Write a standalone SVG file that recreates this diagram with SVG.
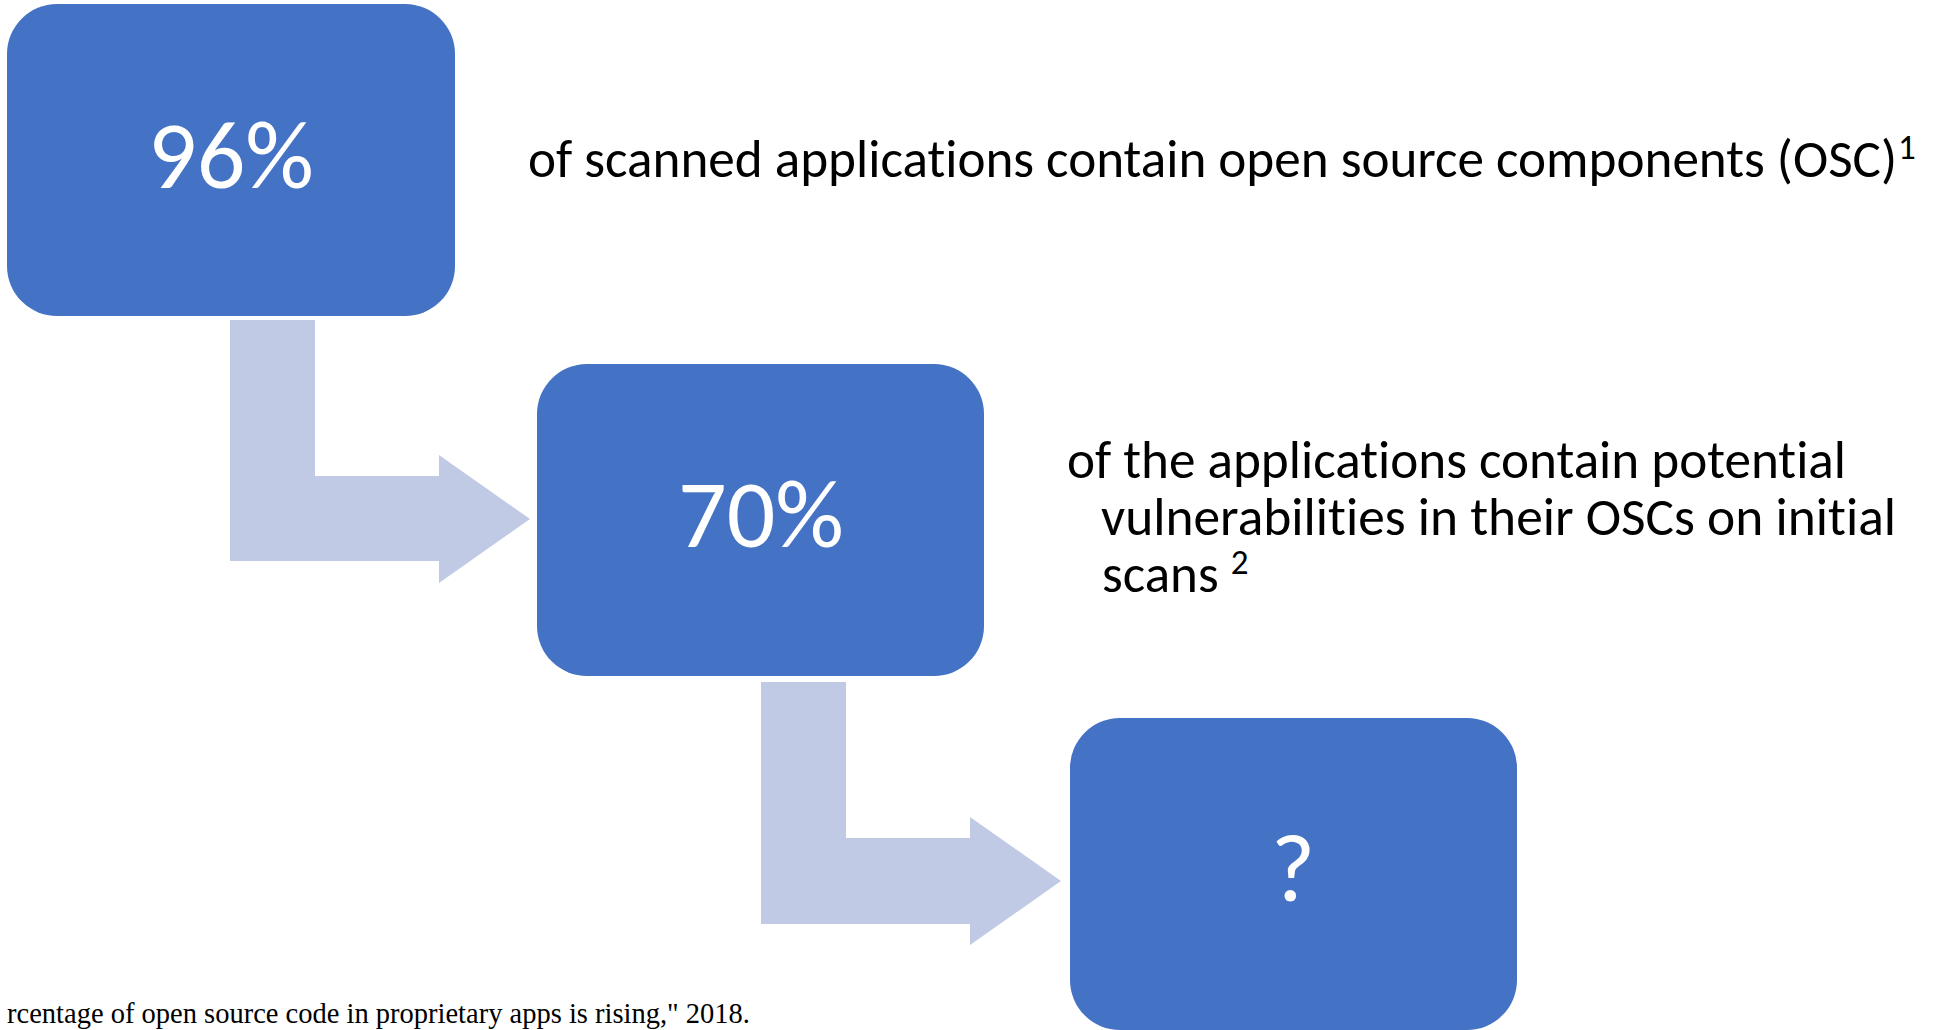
<svg xmlns="http://www.w3.org/2000/svg" width="1934" height="1030" viewBox="0 0 1934 1030">
  <style>
    .box { fill: #4472C4; }
    .arrow { fill: #C0CAE4; }
    .num { font-family: Carlito, Calibri, Lato, "Open Sans", sans-serif; font-size: 96px; fill: #FFFFFF; text-anchor: middle; font-variant-ligatures: none; }
    .desc { font-family: Carlito, Calibri, Lato, "Open Sans", sans-serif; font-size: 53px; fill: #000000; font-variant-ligatures: none; }
    .sup { font-size: 35px; }
    .foot { font-family: "Liberation Serif", "Times New Roman", serif; font-size: 28.5px; fill: #000000; }
  </style>
  <rect width="1934" height="1030" fill="#FFFFFF"/>
  <g id="connectors">
    <polygon id="arrow1" class="arrow" points="230,320 315,320 315,476 439,476 439,455 530,519 439,583 439,561 230,561"/>
    <polygon id="arrow2" class="arrow" points="761,682 846,682 846,838 970,838 970,817 1061,881 970,945 970,924 761,924"/>
  </g>
  <g id="node1">
    <rect class="box" x="7" y="4" width="448" height="312" rx="50" ry="50"/>
    <text class="num" x="231" y="188">96%</text>
  </g>
  <g id="node2">
    <rect class="box" x="537" y="364" width="447" height="312" rx="50" ry="50"/>
    <text class="num" x="761" y="547">70%</text>
  </g>
  <g id="node3">
    <rect class="box" x="1070" y="718" width="447" height="312" rx="50" ry="50"/>
    <text class="num" x="1293" y="901">?</text>
  </g>
  <g id="label1">
    <text class="desc" x="528" y="177"><tspan textLength="1369" lengthAdjust="spacingAndGlyphs">of scanned applications contain open source components (OSC)</tspan><tspan class="sup" dx="1" dy="-18">1</tspan></text>
  </g>
  <g id="label2">
    <text class="desc" x="1067" y="478" textLength="779" lengthAdjust="spacingAndGlyphs">of the applications contain potential</text>
    <text class="desc" x="1101" y="535" textLength="795" lengthAdjust="spacingAndGlyphs">vulnerabilities in their OSCs on initial</text>
    <text class="desc" x="1102" y="592">scans <tspan class="sup" dy="-18">2</tspan></text>
  </g>
  <g id="footnote">
    <text class="foot" x="750" y="1023" text-anchor="end">rcentage of open source code in proprietary apps is rising," 2018.</text>
  </g>
</svg>
